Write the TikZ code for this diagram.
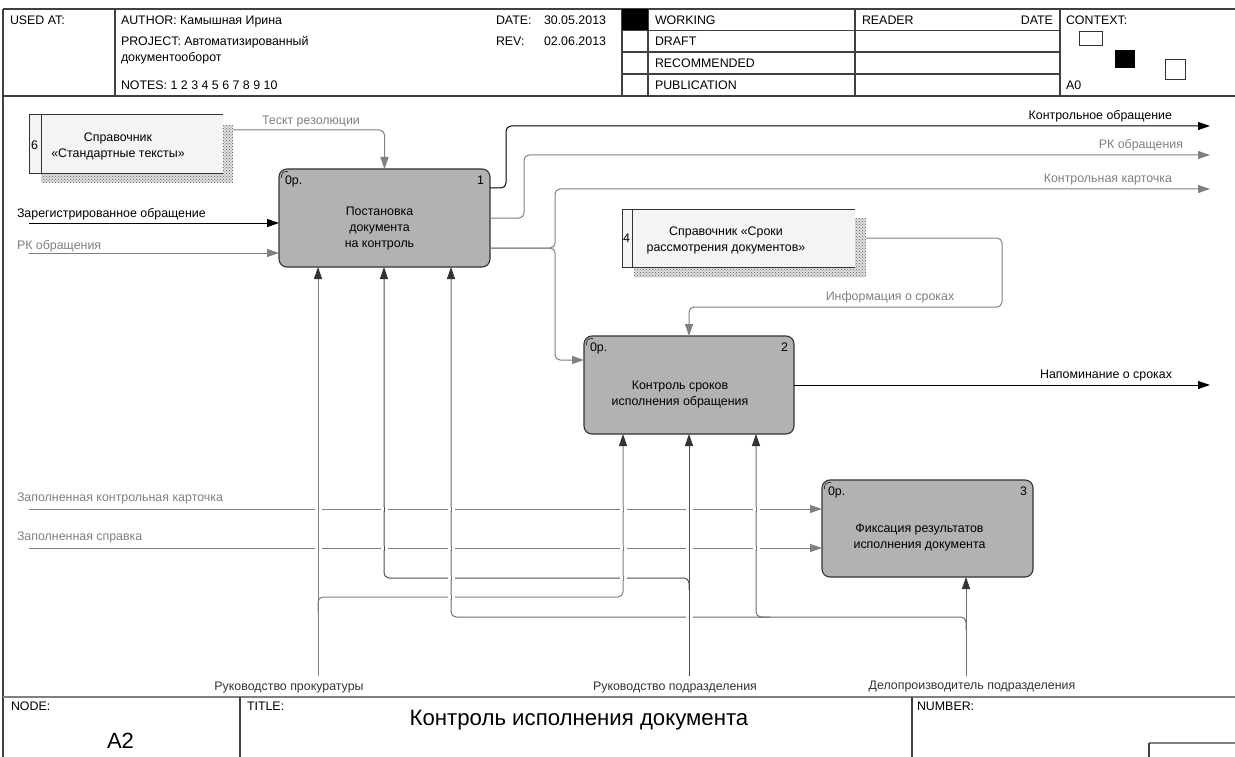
\documentclass[tikz,border=0pt]{standalone}
\usepackage{fontspec}
\setmainfont{Liberation Sans}
\usetikzlibrary{arrows.meta,patterns,calc}

\definecolor{boxfill}{HTML}{B2B2B2}
\definecolor{storefill}{HTML}{F4F4F4}
\definecolor{flowgray}{HTML}{808080}
\definecolor{flowdark}{HTML}{4D4D4D}
\definecolor{flowmid}{HTML}{6E6E6E}
\definecolor{ink}{HTML}{333333}
\definecolor{rule}{HTML}{404040}

\begin{document}
\begin{tikzpicture}[x=1pt,y=-1pt,
  every node/.style={font=\fontsize{12.4}{16}\selectfont, inner sep=0pt, outer sep=0pt},
  lbl/.style={text height=8.9pt, text depth=0pt},
  frame/.style={draw=rule, line width=1.4pt},
  act/.style={draw=ink, line width=1.1pt, fill=boxfill, rounded corners=8pt,
              minimum width=211pt, minimum height=98pt},
  store/.style={fill=storefill},
  storeshade/.style={preaction={fill=black!12}, pattern=crosshatch dots, pattern color=black!65},
  storeline/.style={draw=ink, line width=1pt},
  tipk/.style={-{Triangle[length=12pt,width=8pt]}},
  flowblack/.style={draw=black, line width=1pt, rounded corners=5pt, tipk},
  flowgrey/.style={draw=flowgray, line width=1pt, rounded corners=5pt, tipk},
  mech/.style={line width=1pt, rounded corners=5pt,
               -{Triangle[length=12pt,width=8pt,color=ink]}},
  cornermark/.style={draw=ink, line width=0.7pt, rounded corners=4pt},
]
\useasboundingbox (0,0) rectangle (1235,757);
\fill[white] (0,0) rectangle (1235,757);

% ---------- header block ----------
\draw[frame] (3,9) -- (1235,9);
\draw[frame] (3,96) -- (1235,96);
\draw[draw=rule, line width=2pt] (3,9) -- (3,757);
\foreach \x in {115,622,648,855,1060} \draw[frame] (\x,9) -- (\x,96);
\foreach \y in {30.5,52,74} \draw[frame] (622,\y) -- (1060,\y);
\fill[black] (622,9) rectangle (648,30.5);
\draw[ink, line width=1pt] (1079,32) rectangle (1102,46);
\fill[black] (1115,50) rectangle (1135,68);
\draw[ink, line width=1pt] (1165,60) rectangle (1185,80);

\node[lbl, anchor=west] (hUsed) at (10,20) {USED AT:};
\node[lbl, anchor=west] (hAuthor) at (121,20) {AUTHOR: Камышная Ирина};
\node[anchor=north west, align=left] (hProject) at (121,36.2) {PROJECT: Автоматизированный\\документооборот};
\node[lbl, anchor=west] (hNotes) at (121,85) {NOTES: 1 2 3 4 5 6 7 8 9 10};
\node[lbl, anchor=west] (hDate) at (496,20) {DATE:};
\node[lbl, anchor=west] (hDateV) at (544,20) {30.05.2013};
\node[lbl, anchor=west] (hRev) at (496,41) {REV:};
\node[lbl, anchor=west] (hRevV) at (544,41) {02.06.2013};
\node[lbl, anchor=west] (hWork) at (655,20) {WORKING};
\node[lbl, anchor=west] (hDraft) at (655,41) {DRAFT};
\node[lbl, anchor=west] (hRec) at (655,63) {RECOMMENDED};
\node[lbl, anchor=west] (hPub) at (655,85) {PUBLICATION};
\node[lbl, anchor=west] (hReader) at (862,20) {READER};
\node[lbl, anchor=east] (hRDate) at (1053,20) {DATE};
\node[lbl, anchor=west] (hCtx) at (1066,20) {CONTEXT:};
\node[lbl, anchor=west] (hA0) at (1066,85) {A0};

% ---------- footer block ----------
\draw[draw=flowgray, line width=2pt] (3,697) -- (1235,697);
\draw[frame] (240,697) -- (240,757);
\draw[frame] (912,697) -- (912,757);
\draw[draw=flowgray, line width=2pt] (1149,743) -- (1235,743);
\draw[frame] (1149,743) -- (1149,757);
\node[lbl, anchor=west] (fNode) at (11,706) {NODE:};
\node[lbl, anchor=west] (fTitle) at (247,706) {TITLE:};
\node[lbl, anchor=west] (fNumber) at (917,706) {NUMBER:};
\node[font=\fontsize{22.2}{26}\selectfont, text height=15.9pt, text depth=0pt] (fTitleV) at (579,718) {Контроль исполнения документа};
\node[font=\fontsize{22}{26}\selectfont, text height=15.7pt, text depth=0pt] (fNodeV) at (120.5,741) {A2};

% ---------- reference stores ----------
\node[storeshade, minimum width=192pt, minimum height=58pt] (r6s) at (137,154) {};
\node[store, minimum width=194pt, minimum height=59pt] (r6) at (126,144.5) {};
\draw[storeline] (r6.north east) -- (r6.north west) -- (r6.south west) -- (r6.south east);
\draw[storeline] ($(r6.north west)+(12,0)$) -- ($(r6.south west)+(12,0)$);
\node[lbl] (r6n) at (34.5,145) {6};
\node[align=center] (r6t) at (118,146) {Справочник\\«Стандартные тексты»};

\node[storeshade, minimum width=232pt, minimum height=59pt] (r4s) at (750,247.5) {};
\node[store, minimum width=233pt, minimum height=58pt] (r4) at (738.5,238) {};
\draw[storeline] (r4.north east) -- (r4.north west) -- (r4.south west) -- (r4.south east);
\draw[storeline] ($(r4.north west)+(10,0)$) -- ($(r4.south west)+(10,0)$);
\node[lbl] (r4n) at (626.5,238) {4};
\node[align=center] (r4t) at (726,240) {Справочник «Сроки\\рассмотрения документов»};

% ---------- activity boxes ----------
\node[act] (b1) at (384.5,218) {};
\node[act, minimum width=210pt] (b2) at (689,385) {};
\node[act, minimum height=97pt] (b3) at (927.5,528.5) {};
\foreach \b in {b1,b2,b3}
  \draw[cornermark] ($(\b.north west)+(2.5,9)$) |- ($(\b.north west)+(9,2.5)$);

\node[align=center] (b1t) at ($(b1.center)+(-5,11)$) {Постановка\\документа\\на контроль};
\node[align=center] (b2t) at ($(b2.center)+(-9,10)$) {Контроль сроков\\исполнения обращения};
\node[align=center] (b3t) at ($(b3.center)+(-8,9)$) {Фиксация результатов\\исполнения документа};
\node[lbl, anchor=west] (b1c) at ($(b1.north west)+(6,11)$) {0р.};
\node[lbl, anchor=east] (b1n) at ($(b1.north east)+(-6,11)$) {1};
\node[lbl, anchor=west] (b2c) at ($(b2.north west)+(6,11)$) {0р.};
\node[lbl, anchor=east] (b2n) at ($(b2.north east)+(-6,11)$) {2};
\node[lbl, anchor=west] (b3c) at ($(b3.north west)+(6,11)$) {0р.};
\node[lbl, anchor=east] (b3n) at ($(b3.north east)+(-6,11)$) {3};

% ---------- connector end points and bends ----------
\coordinate (inA) at (29,223);
\coordinate (inB) at (29,253);
\coordinate (inC) at (29,509);
\coordinate (inD) at (29,548);
\coordinate (kA) at (506,126);   \coordinate (outA) at (1210,126);
\coordinate (kB) at (524,155);   \coordinate (outB) at (1210,155);
\coordinate (kC) at (555,189);   \coordinate (outC) at (1210,189);
\coordinate (kD) at (555,360);
\coordinate (kE) at (1002,307);
\coordinate (outD) at (1210,385);
\coordinate (mP) at (318,676);
\coordinate (mR) at (689,676);
\coordinate (mD) at (966,676);
\coordinate (jR) at (384,578);
\coordinate (jP) at (623,597);
\coordinate (jD) at (451,617);
\coordinate (jE) at (756,617);

% ---------- inputs, outputs and references ----------
\draw[flowgrey] ($(r6s.north east)+(0,5)$) -| (b1.north);
\draw[flowblack] (inA) -- (inA -| b1.west);
\draw[flowgrey] (inB) -- (inB -| b1.west);
\draw[flowblack] ($(b1.east)+(0,-30)$) -| (kA) -- (outA);
\draw[flowgrey] (b1.east) -| (kB) -- (outB);
\draw[flowgrey] ($(b1.east)+(0,30)$) -| (kC) -- (outC);
\draw[flowgrey] ($(b1.east)+(0,30)$) -| (kD) -- (kD -| b2.west);
\draw[flowgrey] (r4s.east |- r4.center) -| (kE) -| (b2.north);
\draw[flowblack] (b2.east) -- (outD);
\draw[flowgrey] (inC) -- (inC -| b3.west);
\draw[flowgrey] (inD) -- (inD -| b3.west);

% ---------- mechanisms ----------
\draw[mech, draw=flowdark] ($(mR)+(0,-86)$) |- (jR) -- (jR |- b1.south);
\draw[mech, draw=flowgray] ($(mP)+(0,-64)$) |- (jP) -- (jP |- b2.south);
\draw[mech, draw=flowgray] (mP) -- (mP |- b1.south);
\draw[mech, draw=flowmid] ($(jE)+(14,0)$) -- (jE) -- (jE |- b2.south);
\draw[mech, draw=flowmid] ($(mD)+(0,-46)$) |- (jD) -- (jD |- b1.south);
\draw[mech, draw=flowmid] (mD) -- (mD |- b3.south);
\draw[mech, draw=flowdark] (mR) -- (mR |- b2.south);

% line crossings: the horizontal line is broken where a vertical one passes
\foreach \x/\y/\c in {318/509/flowgray, 384/509/flowdark, 451/509/flowmid,
                      623/509/flowgray, 689/509/flowdark, 756/509/flowmid,
                      318/548/flowgray, 384/548/flowdark, 451/548/flowmid,
                      623/548/flowgray, 689/548/flowdark, 756/548/flowmid,
                      451/578/flowmid, 623/578/flowgray, 451/597/flowmid,
                      689/617/flowdark}
{
  \fill[white] (\x-3.5,\y-1.8) rectangle (\x+3.5,\y+1.8);
  \draw[\c, line width=1pt] (\x,\y-2.5) -- (\x,\y+2.5);
}

% ---------- arrow labels ----------
\node[lbl, anchor=west] (lA) at (17,213) {Зарегистрированное обращение};
\node[lbl, anchor=west, text=flowgray] (lB) at (17,245) {РК обращения};
\node[lbl, text=flowgray] (lT) at (311,120) {Тескт резолюции};
\node[lbl, anchor=east] (lOA) at (1172,115) {Контрольное обращение};
\node[lbl, anchor=east, text=flowgray] (lOB) at (1183,144) {РК обращения};
\node[lbl, anchor=east, text=flowgray] (lOC) at (1172,178) {Контрольная карточка};
\node[lbl, text=flowgray] (lI) at (890,296) {Информация о сроках};
\node[lbl, anchor=east] (lOD) at (1172,374) {Напоминание о сроках};
\node[lbl, anchor=west, text=flowgray] (lC) at (17,497) {Заполненная контрольная карточка};
\node[lbl, anchor=west, text=flowgray] (lD) at (17,536) {Заполненная справка};
\node[lbl, text=ink] (lP) at (289,686) {Руководство прокуратуры};
\node[lbl, text=ink] (lR) at (675,686) {Руководство подразделения};
\node[lbl, text=ink] (lDp) at (972,685) {Делопроизводитель подразделения};
\end{tikzpicture}
\end{document}
